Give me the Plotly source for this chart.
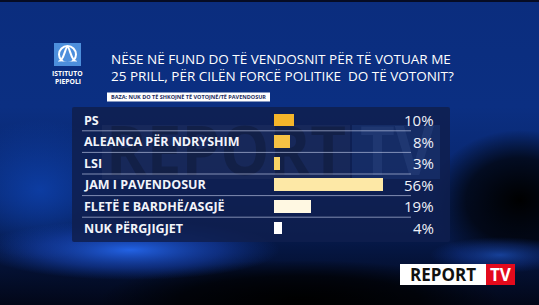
import base64
import plotly.graph_objects as go

# ---------------- data ----------------
categories = ["PS", "ALEANCA PËR NDRYSHIM", "LSI", "JAM I PAVENDOSUR",
              "FLETË E BARDHË/ASGJË", "NUK PËRGJIGJET"]
values = [10, 8, 3, 56, 19, 4]
value_labels = ["10%", "8%", "3%", "56%", "19%", "4%"]
bar_colors = ["#f4b52a", "#f6c244", "#f8d365", "#fde8a6", "#fff8e2", "#ffffff"]
title_lines = ["NËSE NË FUND DO TË VENDOSNIT PËR TË VOTUAR ME",
               "25 PRILL, PËR CILËN FORCË POLITIKE  DO TË VOTONIT?"]
base_text = "BAZA: NUK DO TË SHKOJNË TË VOTOJNË/TË PAVENDOSUR"

W, H = 539, 305


def X(px):
    return px / W


def Y(py):
    return 1 - py / H


# ---------------- background (svg gradient + panel + watermark) ----------------
svg = f"""<svg xmlns='http://www.w3.org/2000/svg' width='{W}' height='{H}' viewBox='0 0 {W} {H}' preserveAspectRatio='none'>
<defs>
<linearGradient id='g' x1='0' y1='0' x2='0' y2='1'>
<stop offset='0' stop-color='#0b2d7e'/>
<stop offset='0.35' stop-color='#0b2f82'/>
<stop offset='0.65' stop-color='#082468'/>
<stop offset='1' stop-color='#020718'/>
</linearGradient>
<radialGradient id='glow' cx='0.5' cy='0.5' r='0.5'>
<stop offset='0' stop-color='#2466ec' stop-opacity='0.95'/>
<stop offset='0.6' stop-color='#1848c0' stop-opacity='0.5'/>
<stop offset='1' stop-color='#1040b0' stop-opacity='0'/>
</radialGradient>
<radialGradient id='dark' cx='0.5' cy='0.5' r='0.5'>
<stop offset='0' stop-color='#000000' stop-opacity='1'/>
<stop offset='0.6' stop-color='#000000' stop-opacity='0.7'/>
<stop offset='1' stop-color='#000000' stop-opacity='0'/>
</radialGradient>
<radialGradient id='mid' cx='0.5' cy='0.5' r='0.5'>
<stop offset='0' stop-color='#0d3fa8' stop-opacity='0.9'/>
<stop offset='1' stop-color='#0d3fa8' stop-opacity='0'/>
</radialGradient>
</defs>
<rect width='{W}' height='{H}' fill='url(#g)'/>
<ellipse cx='40' cy='190' rx='90' ry='70' fill='url(#mid)'/>
<ellipse cx='520' cy='200' rx='90' ry='70' fill='url(#dark)'/>
<ellipse cx='300' cy='300' rx='200' ry='40' fill='url(#dark)'/>
<ellipse cx='130' cy='250' rx='150' ry='30' fill='url(#glow)'/>
<ellipse cx='500' cy='255' rx='70' ry='18' fill='url(#glow)' opacity='0.6'/>
<rect width='{W}' height='2' fill='#060c24'/>
<rect x='72' y='107' width='378' height='135' rx='2' fill='#0f1f4e' fill-opacity='0.85'/>
<rect x='102' y='125' width='248' height='54' fill='#ffffff' fill-opacity='0.04'/>
<text x='106' y='175' textLength='240' lengthAdjust='spacingAndGlyphs' font-family='Open Sans' font-weight='bold' font-size='68' fill='#000000' fill-opacity='0.2'>REPORT</text>
<rect x='352' y='125' width='88' height='54' fill='#3a62b8' fill-opacity='0.18'/>
<text x='360' y='175' textLength='74' lengthAdjust='spacingAndGlyphs' font-family='Open Sans' font-weight='bold' font-size='68' fill='#6a8ad0' fill-opacity='0.12'>TV</text>
</svg>"""
bg_src = "data:image/svg+xml;base64," + base64.b64encode(svg.encode()).decode()

# ---------------- figure ----------------
fig = go.Figure()
fig.add_trace(go.Bar(
    x=values, y=categories, orientation="h",
    marker=dict(color=bar_colors, line=dict(width=0)),
    width=0.6, hoverinfo="skip",
))

bar_x0, px_per_pct = 274, 1.95
dom_x1 = 450
row_top, row_h = 108, 22
n = len(categories)

fig.update_layout(
    width=W, height=H,
    margin=dict(l=0, r=0, t=0, b=0),
    paper_bgcolor="#0b2d7e",
    plot_bgcolor="rgba(0,0,0,0)",
    showlegend=False,
    bargap=0,
    xaxis=dict(domain=[X(bar_x0), X(dom_x1)],
               range=[0, (dom_x1 - bar_x0) / px_per_pct],
               visible=False, fixedrange=True),
    yaxis=dict(domain=[Y(row_top + n * row_h), Y(row_top)],
               autorange="reversed", visible=False, fixedrange=True,
               categoryorder="array", categoryarray=categories),
    images=[dict(source=bg_src, xref="paper", yref="paper", x=0, y=1,
                 sizex=1, sizey=1, sizing="stretch", layer="below")],
)

shapes = []
annotations = []

# separators, category labels, value labels
for i, (cat, lab) in enumerate(zip(categories, value_labels)):
    annotations.append(dict(text=f"<b>{cat}</b>", xref="paper", yref="y",
                            x=X(82), y=cat, xanchor="left", yanchor="middle",
                            showarrow=False,
                            font=dict(family="Open Sans", size=12.5, color="#f2f4fa")))
    annotations.append(dict(text=lab, xref="paper", yref="y",
                            x=X(436), y=cat, xanchor="right", yanchor="middle",
                            showarrow=False,
                            font=dict(family="Open Sans", size=15, color="#eef1f8")))
    if i < n - 1:
        shapes.append(dict(type="line", xref="paper", yref="y",
                           x0=X(82), x1=X(411), y0=i + 0.5, y1=i + 0.5,
                           line=dict(color="rgba(190,200,230,0.65)", width=1)))

# title
for j, line in enumerate(title_lines):
    annotations.append(dict(text=line, xref="paper", yref="paper",
                            x=X(109), y=Y(59 + 16.5 * j), xanchor="left", yanchor="middle",
                            showarrow=False,
                            font=dict(family="Open Sans", size=13.5, color="#ffffff")))

# baza box
shapes.append(dict(type="rect", xref="paper", yref="paper",
                   x0=X(107), x1=X(270), y0=Y(101.5), y1=Y(92.5),
                   fillcolor="#ffffff", line=dict(width=0)))
annotations.append(dict(text=f"<b>{base_text}</b>", xref="paper", yref="paper",
                        x=X(188.5), y=Y(97), xanchor="center", yanchor="middle",
                        showarrow=False,
                        font=dict(family="Open Sans", size=5.5, color="#1a2a5c")))

# institute logo
shapes.append(dict(type="rect", xref="paper", yref="paper",
                   x0=X(54), x1=X(81), y0=Y(66), y1=Y(43),
                   fillcolor="#4d8fdc", line=dict(width=0)))
shapes.append(dict(type="circle", xref="paper", yref="paper",
                   x0=X(59), x1=X(76), y0=Y(63), y1=Y(46),
                   line=dict(color="#ffffff", width=2)))
shapes.append(dict(type="path", xref="paper", yref="paper",
                   path=(f"M {X(58)} {Y(62)} C {X(64)} {Y(62)}, {X(65)} {Y(47)}, {X(67.5)} {Y(47)} "
                         f"C {X(70)} {Y(47)}, {X(71)} {Y(62)}, {X(77)} {Y(62)}"),
                   line=dict(color="#ffffff", width=2)))
shapes.append(dict(type="rect", xref="paper", yref="paper",
                   x0=X(56), x1=X(79), y0=Y(65), y1=Y(61.5),
                   fillcolor="#4d8fdc", line=dict(width=0)))
for k, word in enumerate(["ISTITUTO", "PIEPOLI"]):
    annotations.append(dict(text=f"<b>{word}</b>", xref="paper", yref="paper",
                            x=X(67.5), y=Y(73 + 8.5 * k), xanchor="center", yanchor="middle",
                            showarrow=False,
                            font=dict(family="Liberation Sans Narrow, Arial Narrow, Open Sans",
                                      size=6.8, color="#ffffff")))

# REPORT TV logo
shapes.append(dict(type="rect", xref="paper", yref="paper",
                   x0=X(400), x1=X(487), y0=Y(285), y1=Y(264),
                   fillcolor="#ffffff", line=dict(width=0)))
shapes.append(dict(type="rect", xref="paper", yref="paper",
                   x0=X(486), x1=X(515), y0=Y(285), y1=Y(264),
                   fillcolor="#e30a1c", line=dict(width=0)))
annotations.append(dict(text="<b>REPORT</b>", xref="paper", yref="paper",
                        x=X(443), y=Y(274.5), xanchor="center", yanchor="middle",
                        showarrow=False,
                        font=dict(family="Open Sans", size=17, color="#111111")))
annotations.append(dict(text="<b>TV</b>", xref="paper", yref="paper",
                        x=X(500.5), y=Y(274.5), xanchor="center", yanchor="middle",
                        showarrow=False,
                        font=dict(family="Open Sans", size=17, color="#ffffff")))

fig.update_layout(shapes=shapes, annotations=annotations)
fig.write_html("out.html", config={"displayModeBar": False})
